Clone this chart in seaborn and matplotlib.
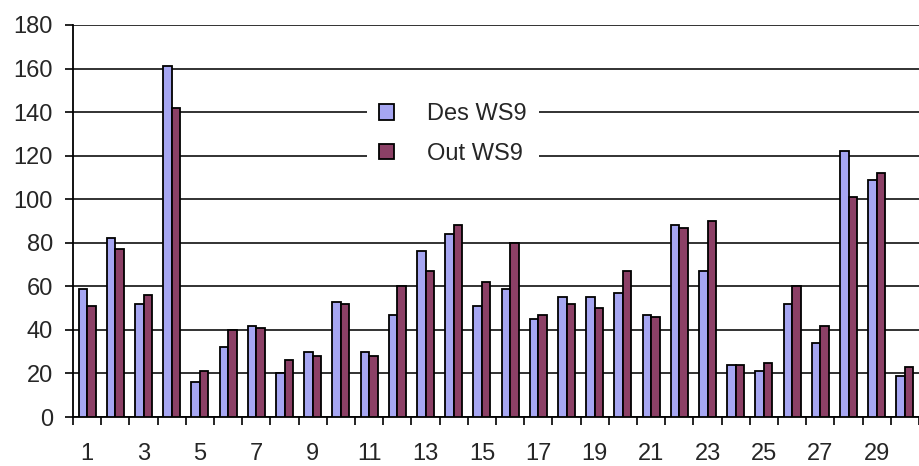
import numpy as np
import pandas as pd
import matplotlib
matplotlib.use('Agg')
import matplotlib.pyplot as plt
import seaborn as sns

# ── data ─────────────────────────────────────────────────────
days = list(range(1, 31))
des_ws9 = [59, 82, 52, 161, 16, 32, 42, 20, 30, 53,
           30, 47, 76, 84, 51, 59, 45, 55, 55, 57,
           47, 88, 67, 24, 21, 52, 34, 122, 109, 19]
out_ws9 = [51, 77, 56, 142, 21, 40, 41, 26, 28, 52,
           28, 60, 67, 88, 62, 80, 47, 52, 50, 67,
           46, 87, 90, 24, 25, 60, 42, 101, 112, 23]
series_names = ['Des WS9', 'Out WS9']
colors = ['#9999FF', '#993366']
yticks = list(range(0, 181, 20))

df = pd.DataFrame({
    'day': days * 2,
    'value': des_ws9 + out_ws9,
    'series': [series_names[0]] * len(days) + [series_names[1]] * len(days),
})

sns.set_style('white')
plt.rcParams['font.family'] = ['Liberation Sans', 'DejaVu Sans']

fig = plt.figure(figsize=(9.19, 4.66), dpi=100)
ax = fig.add_axes([73 / 919, 49 / 466, 1 - 73 / 919, 392 / 466])

sns.barplot(data=df, x='day', y='value', hue='series', palette=colors,
            width=0.6, edgecolor='black', linewidth=1.3, ax=ax, zorder=3)

ax.set_ylim(0, 180)
ax.set_xlim(-0.5, 29.18)
ax.set_yticks(yticks)
ax.set_yticklabels([str(v) for v in yticks])
ax.yaxis.grid(True, color='#222222', linewidth=1.3, zorder=0)
ax.set_axisbelow(True)

# labels on every other category, tick marks between categories
ax.set_xticks(range(len(days)))
ax.set_xticklabels([str(d) if d % 2 == 1 else '' for d in days])
ax.set_xticks(np.arange(-0.5, len(days), 1), minor=True)
ax.tick_params(axis='x', which='major', length=0, pad=19, labelsize=17)
ax.tick_params(axis='x', which='minor', length=6, width=1.2, color='black',
               bottom=True, direction='out')
ax.tick_params(axis='y', length=6, width=1.2, color='black', pad=8.5,
               labelsize=17, left=True, direction='out')

ax.set_xlabel('')
ax.set_ylabel('')
for side in ['top', 'right']:
    ax.spines[side].set_visible(False)
for side in ['left', 'bottom']:
    ax.spines[side].set_color('black')
    ax.spines[side].set_linewidth(1.3)

handles, labels = ax.get_legend_handles_labels()
leg = ax.legend(handles, labels, loc='center',
                bbox_to_anchor=(453 / 919, 1 - 134 / 466),
                bbox_transform=fig.transFigure, fontsize=17,
                frameon=True, facecolor='white', edgecolor='none',
                framealpha=1, fancybox=False, handlelength=0.65,
                handleheight=0.65, handletextpad=1.4, labelspacing=0.75,
                borderpad=0.5)
leg.set_zorder(5)

plt.savefig('out.png', dpi=100)
